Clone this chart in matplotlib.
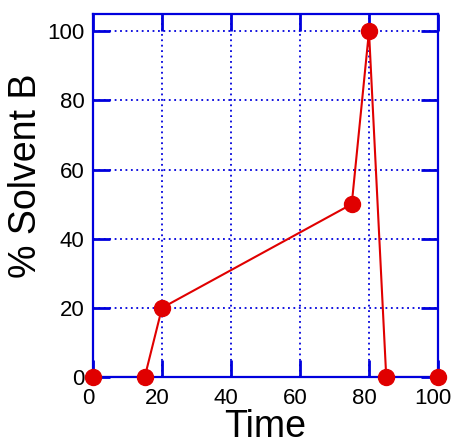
import matplotlib
matplotlib.use("Agg")
import matplotlib.pyplot as plt
import matplotlib.transforms as mtransforms

time = [0, 15, 20, 75, 80, 85, 100]
solvent_b = [0, 0, 20, 50, 100, 0, 0]
x_ticks = [0, 20, 40, 60, 80, 100]
y_ticks = [0, 20, 40, 60, 80, 100]

blue = "#0000dd"
red = "#e00000"

plt.rcParams['font.family'] = ['Liberation Sans', 'DejaVu Sans']

fig = plt.figure(figsize=(4.55, 4.44), dpi=100)
ax = fig.add_axes([0.2044, 0.1509, 0.7582, 0.8176])

ax.plot(time, solvent_b, color=red, lw=1.5, zorder=2)
ax.plot(time, solvent_b, linestyle='none', marker='o', markersize=11.5,
        color=red, clip_on=False, zorder=5)

ax.set_xlim(0, 100)
ax.set_ylim(0, 105)
ax.set_xticks(x_ticks)
ax.set_yticks(y_ticks)

for s in ax.spines.values():
    s.set_color(blue)
    s.set_linewidth(1.6)

ax.grid(True, color=blue, linestyle=(0, (1, 2)), linewidth=1.3)
ax.tick_params(direction='in', length=12, width=2, color=blue,
               top=True, right=True, labelsize=16, labelcolor='black')
ax.tick_params(axis='x', pad=8)
ax.tick_params(axis='y', pad=6)

offset = mtransforms.ScaledTranslation(-5 / 100, 0, fig.dpi_scale_trans)
for lbl in ax.get_xticklabels():
    lbl.set_transform(lbl.get_transform() + offset)

ax.set_xlabel('Time', fontsize=27, labelpad=0)
ax.set_ylabel('% Solvent B', fontsize=27)
ax.yaxis.set_label_coords(-0.142, 0.554)

fig.savefig('out.png', dpi=100)
